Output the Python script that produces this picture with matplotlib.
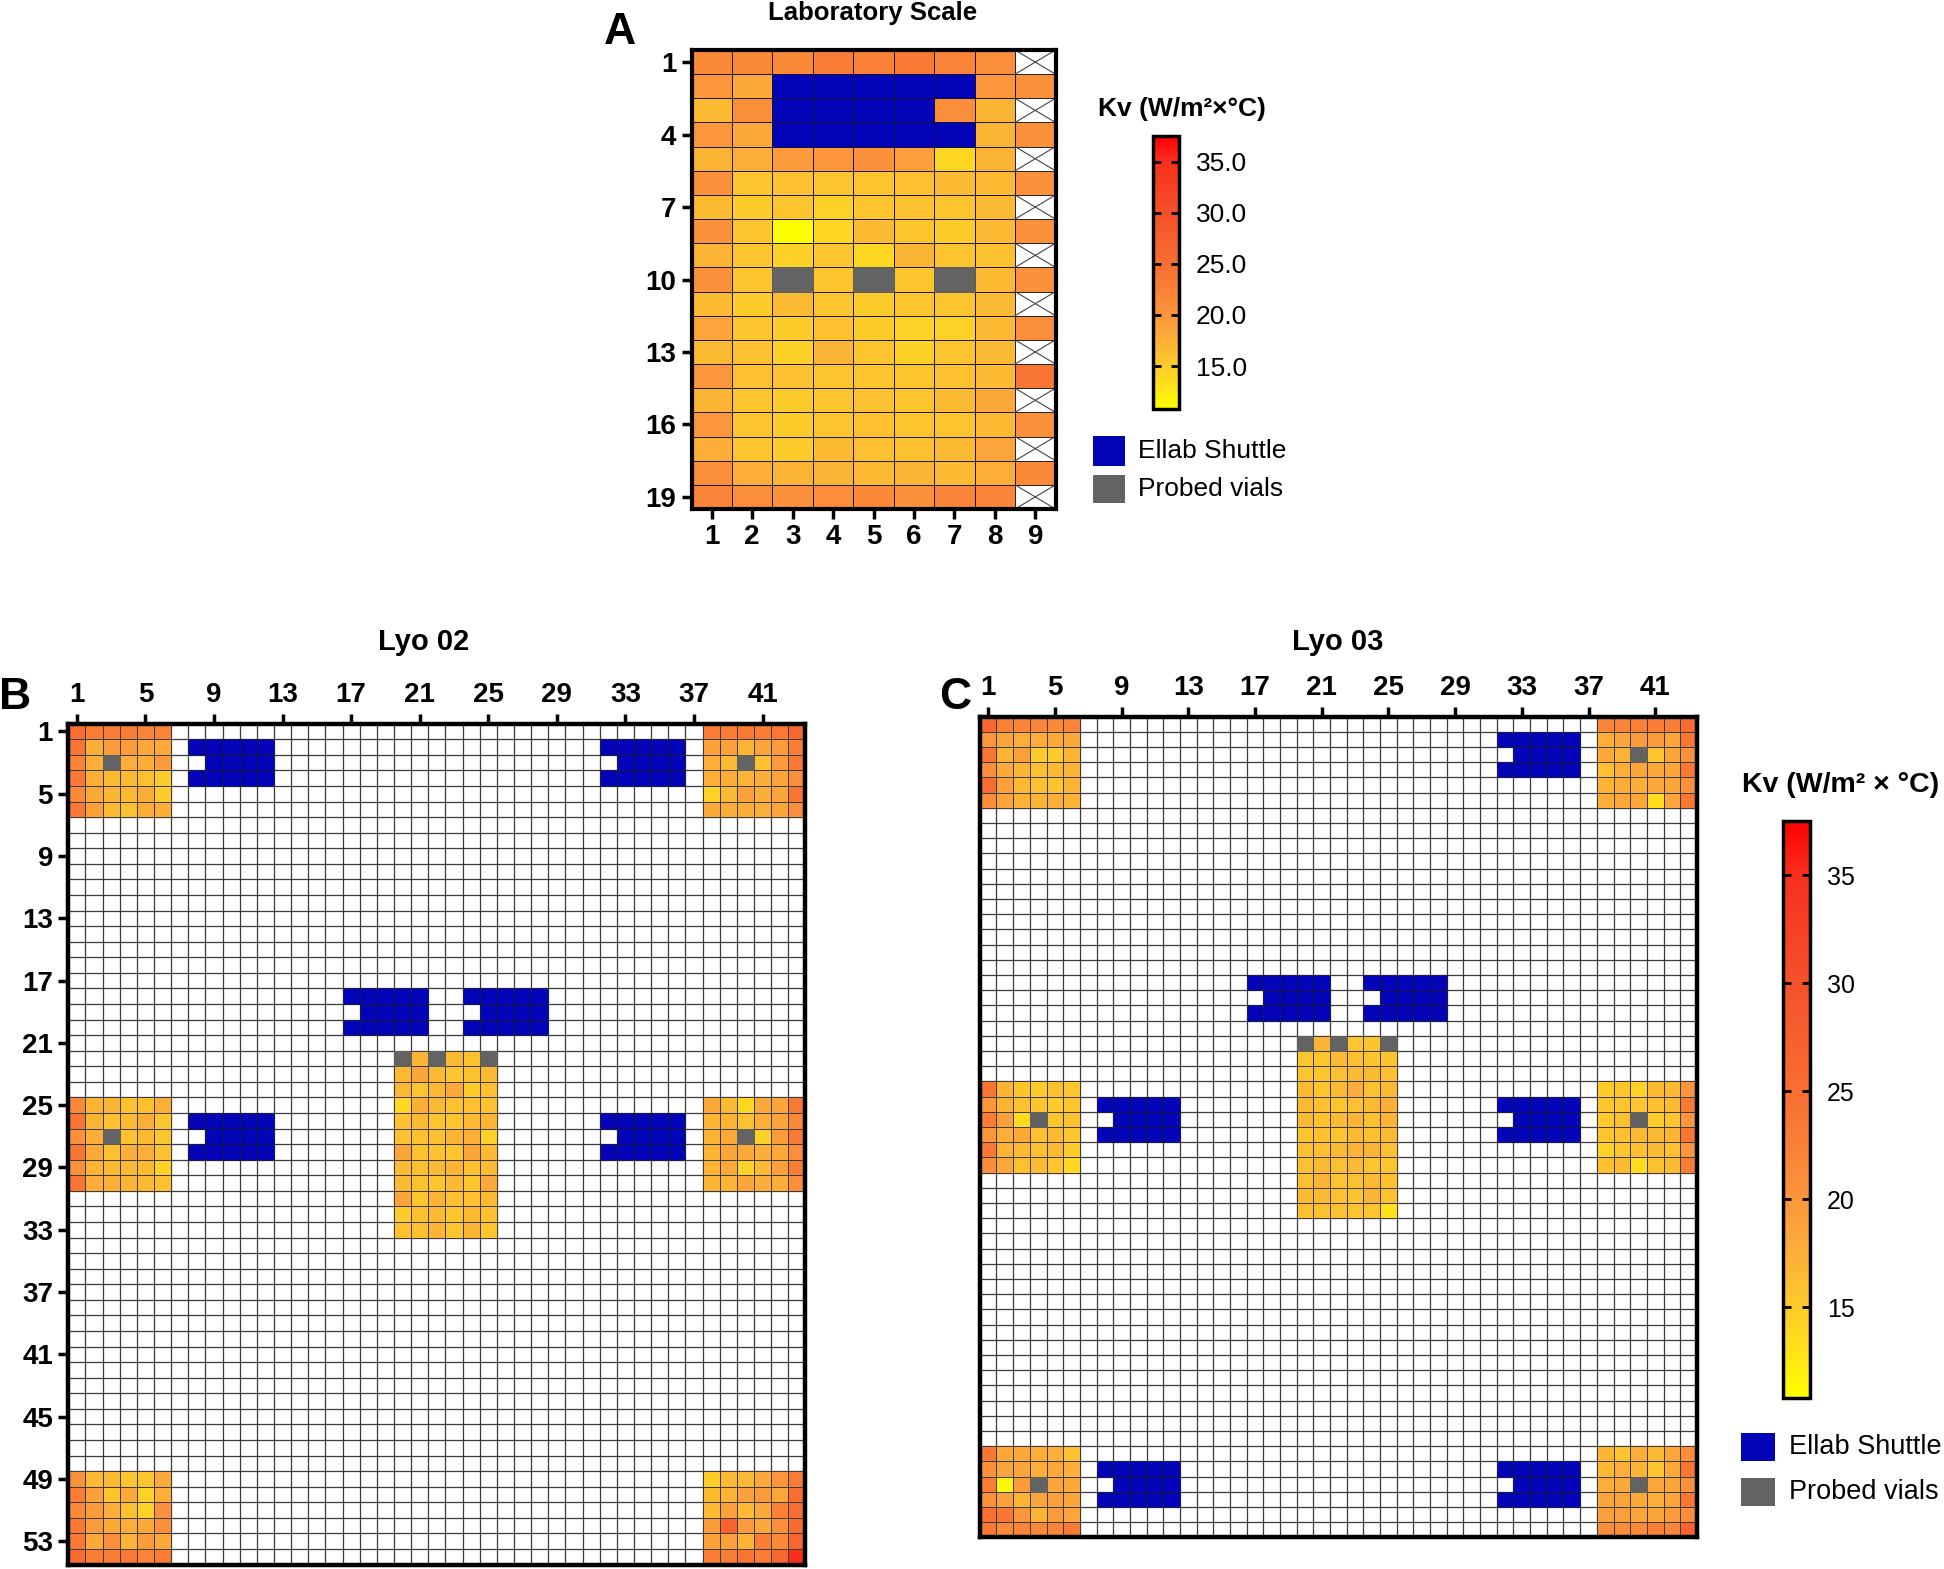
import numpy as np
import matplotlib
matplotlib.use('Agg')
import matplotlib.pyplot as plt
from matplotlib.colors import LinearSegmentedColormap, Normalize
from matplotlib.patches import Rectangle
from matplotlib.cm import ScalarMappable

plt.rcParams['font.family'] = ['Liberation Sans', 'DejaVu Sans']

# ---------------- data ----------------
VMIN, VMAX = 10.8, 37.5
CB_TICKS = [15, 20, 25, 30, 35]
SHUTTLE_COLOR = '#0303B8'
PROBE_COLOR = '#636363'

# Panel A: laboratory scale, 19 rows x 9 columns (None = shuttle / probe / empty)
A_NROWS, A_NCOLS = 19, 9
A_values = [
    [21.5, 21.5, 21.5, 23, 22.5, 23.5, 22, 21, None],
    [20, 18, None, None, None, None, None, 20, 20.5],
    [16.5, 21, None, None, None, None, 21, 17, None],
    [20, 18, None, None, None, None, None, 17, 20.5],
    [17, 17.5, 19.5, 20, 20.5, 19, 14, 17, None],
    [20.5, 15.5, 16, 15.5, 15.5, 16, 16.5, 16.5, 20.5],
    [16.5, 15, 15.5, 14.5, 15.5, 16, 15.5, 16.5, None],
    [20.5, 15.5, 11, 14, 16.5, 15.5, 15, 16.5, 20.5],
    [17, 15.5, 14.5, 15.5, 14, 17, 15.5, 16, None],
    [20.5, 15.5, None, 15.5, None, 15.5, None, 16.5, 20.5],
    [16.5, 15, 16.5, 15.5, 15, 15.5, 15.5, 16.5, None],
    [18.5, 15.5, 15, 16, 15, 14.5, 14.5, 16.5, 21],
    [16.5, 16, 14.5, 17, 15.5, 14.5, 15.5, 16.5, None],
    [20, 16, 16, 15.5, 15.5, 15.5, 16, 16.5, 24],
    [17, 15.5, 15, 15.5, 16, 15.5, 16.5, 18, None],
    [20, 15.5, 15, 15.5, 16, 15.5, 15.5, 16.5, 20.5],
    [17.5, 15.5, 15, 16.5, 16, 16, 16.5, 18.5, None],
    [21, 17.5, 17, 17, 16.5, 17, 16.5, 17.5, 21.5],
    [22, 21, 20.5, 21, 21.5, 20.5, 22, 22, None],
]
A_shuttle = [(2, 3), (2, 4), (2, 5), (2, 6), (2, 7),
             (3, 3), (3, 4), (3, 5), (3, 6),
             (4, 3), (4, 4), (4, 5), (4, 6), (4, 7)]
A_probes = [(10, 3), (10, 5), (10, 7)]
A_empty = [(1, 9), (3, 9), (5, 9), (7, 9), (9, 9), (11, 9), (13, 9), (15, 9), (17, 9), (19, 9)]
A_xticks = [1, 2, 3, 4, 5, 6, 7, 8, 9]
A_yticks = [1, 4, 7, 10, 13, 16, 19]

# Panels B/C: pilot dryers, 54 rows x 43 columns
P_NROWS, P_NCOLS = 54, 43
P_xticks = [1, 5, 9, 13, 17, 21, 25, 29, 33, 37, 41]
P_yticks = [1, 5, 9, 13, 17, 21, 25, 29, 33, 37, 41, 45, 49, 53]
# block origins (row, col)
ORIGIN_TL, ORIGIN_TR = (1, 1), (1, 38)
ORIGIN_ML, ORIGIN_MR = (25, 1), (25, 38)
ORIGIN_BL, ORIGIN_BR = (49, 1), (49, 38)
ORIGIN_CENTER = (22, 20)

L02_TL = [[25, 23, 23, 23, 22, 22],
          [24, 17.5, 19.5, 19.5, 18, 18],
          [22, 17.5, None, 17.5, 17.5, 19.5],
          [23.5, 17.5, 16.5, 16.5, 16, 15],
          [21.5, 18, 17, 16.5, 17.5, 15],
          [23.5, 19, 16.5, 16, 17.5, 17.5]]
L02_TR = [[23, 23, 23.5, 23, 23.5, 26],
          [19, 19, 17, 18.5, 19.5, 23],
          [17.5, 16.5, None, 16, 19.5, 23.5],
          [17.5, 17.5, 17, 17.5, 18.5, 21],
          [14.5, 16.5, 19, 17.5, 18.5, 24],
          [18, 17.5, 17.5, 17.5, 18.5, 21]]
L02_ML = [[21.5, 17, 17, 16, 16, 17.5],
          [24, 17, 16, 16.5, 17.5, 15.5],
          [20.5, 17.5, None, 16, 16.5, 15.5],
          [24, 18, 16, 17.5, 17.5, 16],
          [20.5, 17, 16.5, 16.5, 16.5, 14.5],
          [24, 17.5, 17.5, 17, 16.5, 16]]
L02_MR = [[18, 16.5, 14, 18, 18.5, 23.5],
          [17, 17, 16, 17.5, 18.5, 21.5],
          [17, 18, None, 14.5, 19.5, 23.5],
          [17, 18.5, 18, 17.5, 18, 21],
          [17, 18, 14.5, 16.5, 19, 23],
          [17, 17, 18.5, 17.5, 17.5, 21]]
L02_BL = [[20.5, 16.5, 16.5, 15.5, 15.5, 18],
          [23, 19, 15.5, 18, 14.5, 17.5],
          [21.5, 19.5, 17.5, 16, 14.5, 20.5],
          [23.5, 19.5, 18, 17.5, 18, 20.5],
          [23.5, 18, 21, 17, 19.5, 18],
          [25.5, 23, 23, 23.5, 22, 23]]
L02_BR = [[15, 16.5, 16.5, 18, 20, 23],
          [16.5, 17, 19, 19.5, 18.5, 25],
          [16.5, 19, 16.5, 18, 22.5, 25],
          [19.5, 27, 19.5, 18, 21, 25.5],
          [19, 19, 17, 23, 21.5, 26.5],
          [23, 23, 24, 23, 26, 35]]
L02_CENTER = [[None, 17, None, 16.5, 16, None],
              [16.5, 18.5, 16.5, 15.5, 16, 16.5],
              [16.5, 15.5, 16.5, 18, 15, 16],
              [14, 17.5, 16.5, 16, 16, 16],
              [16, 16.5, 15.5, 15.5, 16.5, 17],
              [16, 16, 16, 17, 17.5, 14.5],
              [18.5, 16, 16, 15.5, 18.5, 16.5],
              [16.5, 16, 16.5, 17, 16, 16.5],
              [16.5, 16, 15.5, 16.5, 15.5, 18],
              [18.5, 15.5, 17, 16, 16, 16.5],
              [15, 16, 16.5, 15.5, 16.5, 16],
              [16, 16, 17, 15.5, 17, 15.5]]
L02_probes = [(3, 3), (3, 40), (27, 3), (27, 40), (22, 20), (22, 22), (22, 25)]
# shuttles: (top row, left col), 3 x 5 cells, notch at (top row + 1, left col)
L02_shuttles = [(2, 8), (2, 32), (18, 17), (18, 24), (26, 8), (26, 32)]

L03_TL = [[26, 22.5, 22, 22, 21.5, 22],
          [20, 18.5, 17.5, 17.5, 18, 18],
          [24, 17, 19, 15, 15, 17],
          [21, 18, 17, 16, 16.5, 17],
          [25, 19, 16.5, 16, 15.5, 17],
          [21, 18.5, 17, 17, 17.5, 17]]
L03_TR = [[22, 22, 22.5, 23, 23, 25.5],
          [17.5, 18.5, 19.5, 19.5, 18.5, 24],
          [18, 17, None, 15.5, 18.5, 20.5],
          [16, 17.5, 18.5, 18, 18.5, 23.5],
          [17, 17.5, 17.5, 18, 18.5, 20.5],
          [17.5, 18, 18, 13.5, 18.5, 23.5]]
L03_ML = [[24, 17, 15.5, 15, 16, 15.5],
          [20, 17, 16, 15.5, 15, 15.5],
          [23, 19, 13.5, None, 15.5, 16],
          [20, 17.5, 18, 16, 16.5, 15.5],
          [23.5, 17, 16.5, 16, 16.5, 15],
          [21, 18, 16, 16.5, 15.5, 14]]
L03_MR = [[15, 15.5, 14.5, 16.5, 16.5, 20],
          [15.5, 15.5, 15.5, 16, 16.5, 23.5],
          [15, 16, None, 15, 15.5, 20],
          [15.5, 16, 16.5, 16.5, 17, 24],
          [14.5, 15.5, 16, 16.5, 16, 20],
          [16, 16.5, 13.5, 16, 16.5, 23]]
L03_BL = [[23.5, 18, 18, 17.5, 17.5, 16],
          [20.5, 18.5, 18.5, 17.5, 18, 17.5],
          [23, 11.5, 19.5, None, 18.5, 18],
          [20.5, 19, 17, 18.5, 19, 18.5],
          [24.5, 24, 20, 17, 19.5, 18.5],
          [23.5, 21.5, 22, 21.5, 22, 23.5]]
L03_BR = [[17, 15.5, 17.5, 16.5, 18.5, 21],
          [16.5, 17.5, 17, 15.5, 18, 24],
          [17.5, 18, None, 18.5, 18.5, 20.5],
          [18.5, 18.5, 18, 17.5, 18.5, 24],
          [19, 19, 18.5, 18.5, 19.5, 21],
          [21, 21, 21.5, 22.5, 22, 27]]
L03_CENTER = [[None, 17, None, 15.5, 15.5, None],
              [15.5, 15.5, 16.5, 16, 15.5, 15.5],
              [15.5, 15.5, 16, 16.5, 16.5, 16],
              [16.5, 15.5, 16.5, 17.5, 16, 16.5],
              [16.5, 16, 15.5, 16, 16.5, 17.5],
              [16.5, 16, 16.5, 17, 16, 17],
              [15.5, 16, 15.5, 16.5, 16, 16.5],
              [16, 16, 16.5, 17, 17, 16],
              [16, 16.5, 16, 16.5, 15.5, 15.5],
              [16, 17, 15.5, 16, 16.5, 16],
              [16.5, 16.5, 16, 15.5, 17, 16],
              [16, 16, 16, 15.5, 15.5, 13]]
L03_probes = [(3, 40), (27, 4), (27, 40), (51, 4), (51, 40), (22, 20), (22, 22), (22, 25)]
L03_shuttles = [(2, 32), (18, 17), (18, 24), (26, 8), (26, 32), (50, 8), (50, 32)]

# ---------------- style ----------------
cmap = LinearSegmentedColormap.from_list('kv', [
    (0.0, '#FFFF00'), (0.082, '#FFE11A'), (0.157, '#FDCB2A'), (0.251, '#FCAE38'),
    (0.345, '#FB963C'), (0.438, '#FA8036'), (0.532, '#F86E32'), (0.719, '#F5512A'),
    (0.906, '#F8301E'), (1.0, '#FF0000')])
norm = Normalize(VMIN, VMAX)

W, H = 1944, 1569
fig = plt.figure(figsize=(W / 100, H / 100), dpi=100)


def ax_px(l, t, r, b):
    return fig.add_axes([l / W, 1 - b / H, (r - l) / W, (b - t) / H])


def to_arr(rows):
    return np.array([[np.nan if v is None else v for v in r] for r in rows], float)


def fill_cells(ax, cells, color, ec, lw):
    for (r, c) in cells:
        ax.add_patch(Rectangle((c - 0.5, r - 0.5), 1, 1, facecolor=color,
                               edgecolor=ec, lw=lw, zorder=3))


def shuttle_cells(shuttles):
    cells = []
    for (r0, c0) in shuttles:
        for dr in range(3):
            for dc in range(5):
                if dr == 1 and dc == 0:
                    continue
                cells.append((r0 + dr, c0 + dc))
    return cells


def px_text(x, y, s, **kw):
    fig.text(x / W, 1 - y / H, s, **kw)


# ---------------- Panel A ----------------
axA = ax_px(691.5, 50, 1055.5, 509)
Aarr = to_arr(A_values)
xe = np.arange(0.5, A_NCOLS + 1)
ye = np.arange(0.5, A_NROWS + 1)
axA.pcolormesh(xe, ye, np.ma.masked_invalid(Aarr), cmap=cmap, norm=norm,
               edgecolors='#1a1a1a', linewidth=0.7, zorder=2)
fill_cells(axA, A_shuttle, SHUTTLE_COLOR, '#111133', 0.6)
fill_cells(axA, A_probes, PROBE_COLOR, PROBE_COLOR, 0.6)
for (r, c) in A_empty:
    axA.add_patch(Rectangle((c - 0.5, r - 0.5), 1, 1, facecolor='white',
                            edgecolor='#222222', lw=0.7, zorder=3))
    axA.plot([c - 0.5, c + 0.5], [r - 0.5, r + 0.5], color='#444444', lw=0.8, zorder=4)
    axA.plot([c - 0.5, c + 0.5], [r + 0.5, r - 0.5], color='#444444', lw=0.8, zorder=4)
axA.set_xlim(0.5, A_NCOLS + 0.5)
axA.set_ylim(A_NROWS + 0.5, 0.5)
axA.set_xticks(A_xticks)
axA.set_yticks(A_yticks)
axA.tick_params(labelsize=20, width=2.5, length=7, pad=4)
for lab in axA.get_xticklabels() + axA.get_yticklabels():
    lab.set_fontweight('bold')
for s in axA.spines.values():
    s.set_linewidth(3)
    s.set_zorder(6)

px_text(873, 13, 'Laboratory Scale', ha='center', va='center', fontsize=18.5, fontweight='bold')
px_text(620, 33, 'A', ha='center', va='center', fontsize=32, fontweight='bold')

# colorbar A
caxA = ax_px(1153, 136, 1179, 409)
cbA = fig.colorbar(ScalarMappable(norm=norm, cmap=cmap), cax=caxA, ticks=CB_TICKS)
cbA.ax.set_yticklabels([f'{t:.1f}' for t in CB_TICKS])
cbA.ax.tick_params(direction='in', left=True, right=True, length=6, width=2,
                   labelsize=19, pad=12)
cbA.outline.set_linewidth(2.5)
px_text(1182, 109, 'Kv (W/m²×°C)', ha='center', va='center', fontsize=19, fontweight='bold')

# legend A
for (y0, y1, col, lab) in [(436, 466, SHUTTLE_COLOR, 'Ellab Shuttle'),
                           (475, 503, PROBE_COLOR, 'Probed vials')]:
    fig.add_artist(Rectangle((1093 / W, 1 - y1 / H), 32 / W, (y1 - y0) / H,
                             transform=fig.transFigure, facecolor=col, edgecolor='none'))
    px_text(1138, (y0 + y1) / 2, lab, ha='left', va='center', fontsize=19)


# ---------------- Panels B and C ----------------
def draw_pilot(rect, blocks, probes, shuttles, ylabels):
    ax = ax_px(*rect)
    grid = np.full((P_NROWS, P_NCOLS), np.nan)
    for (r0, c0), vals in blocks:
        a = to_arr(vals)
        grid[r0 - 1:r0 - 1 + a.shape[0], c0 - 1:c0 - 1 + a.shape[1]] = a
    xe = np.arange(0.5, P_NCOLS + 1)
    ye = np.arange(0.5, P_NROWS + 1)
    ax.vlines(xe[1:-1], 0.5, P_NROWS + 0.5, color='#383838', lw=0.9, zorder=1)
    ax.hlines(ye[1:-1], 0.5, P_NCOLS + 0.5, color='#383838', lw=0.9, zorder=1)
    ax.pcolormesh(xe, ye, np.ma.masked_invalid(grid), cmap=cmap, norm=norm,
                  edgecolors='#3a3a3a', linewidth=0.7, zorder=2)
    fill_cells(ax, shuttle_cells(shuttles), SHUTTLE_COLOR, '#1a1a3a', 0.6)
    fill_cells(ax, probes, PROBE_COLOR, PROBE_COLOR, 0.6)
    ax.set_xlim(0.5, P_NCOLS + 0.5)
    ax.set_ylim(P_NROWS + 0.5, 0.5)
    ax.xaxis.tick_top()
    ax.set_xticks(P_xticks)
    if ylabels:
        ax.set_yticks(P_yticks)
    else:
        ax.set_yticks([])
    ax.tick_params(labelsize=20, width=2.5, length=7, pad=4)
    for lab in ax.get_xticklabels() + ax.get_yticklabels():
        lab.set_fontweight('bold')
    for s in ax.spines.values():
        s.set_linewidth(3.2)
        s.set_zorder(6)
    return ax


draw_pilot((68.3, 723.7, 805.4, 1564.5),
           [(ORIGIN_TL, L02_TL), (ORIGIN_TR, L02_TR), (ORIGIN_ML, L02_ML),
            (ORIGIN_MR, L02_MR), (ORIGIN_BL, L02_BL), (ORIGIN_BR, L02_BR),
            (ORIGIN_CENTER, L02_CENTER)],
           L02_probes, L02_shuttles, True)
draw_pilot((979.8, 716.6, 1696.9, 1537.3),
           [(ORIGIN_TL, L03_TL), (ORIGIN_TR, L03_TR), (ORIGIN_ML, L03_ML),
            (ORIGIN_MR, L03_MR), (ORIGIN_BL, L03_BL), (ORIGIN_BR, L03_BR),
            (ORIGIN_CENTER, L03_CENTER)],
           L03_probes, L03_shuttles, False)

px_text(424, 642, 'Lyo 02', ha='center', va='center', fontsize=21, fontweight='bold')
px_text(1338, 642, 'Lyo 03', ha='center', va='center', fontsize=21, fontweight='bold')
px_text(15, 697, 'B', ha='center', va='center', fontsize=32, fontweight='bold')
px_text(955, 697, 'C', ha='center', va='center', fontsize=32, fontweight='bold')

# colorbar C
caxC = ax_px(1783, 821, 1810, 1398)
cbC = fig.colorbar(ScalarMappable(norm=norm, cmap=cmap), cax=caxC, ticks=CB_TICKS)
cbC.ax.set_yticklabels([f'{t:d}' for t in CB_TICKS])
cbC.ax.tick_params(direction='in', left=True, right=True, length=6, width=2,
                   labelsize=18, pad=12)
cbC.outline.set_linewidth(2.5)
px_text(1841, 785, 'Kv (W/m² × °C)', ha='center', va='center', fontsize=20.5, fontweight='bold')

for (y0, y1, col, lab) in [(1433, 1461, SHUTTLE_COLOR, 'Ellab Shuttle'),
                           (1478, 1506, PROBE_COLOR, 'Probed vials')]:
    fig.add_artist(Rectangle((1741 / W, 1 - y1 / H), 34 / W, (y1 - y0) / H,
                             transform=fig.transFigure, facecolor=col, edgecolor='none'))
    px_text(1789, (y0 + y1) / 2, lab, ha='left', va='center', fontsize=19.5)

fig.savefig('out.png', dpi=100, facecolor='white')
